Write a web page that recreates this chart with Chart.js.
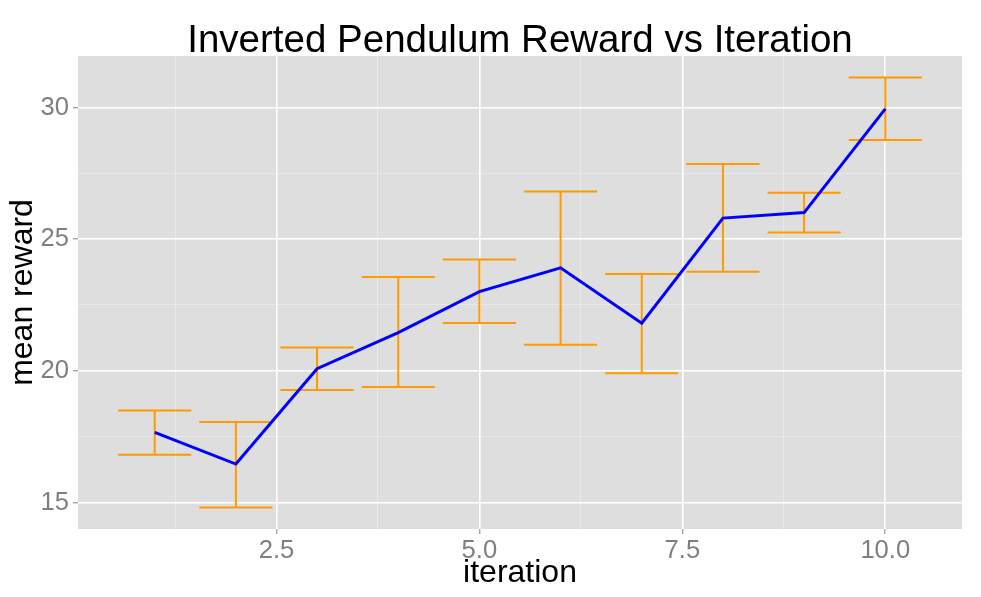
<!DOCTYPE html>
<html>
<head>
<meta charset="utf-8">
<script src="https://cdn.jsdelivr.net/npm/chart.js@4/dist/chart.umd.min.js"></script>
<style>
  html, body { margin: 0; padding: 0; background: #ffffff; }
  #wrap { width: 981px; height: 597px; }
</style>
</head>
<body>
<div id="wrap"><canvas id="c" width="981" height="597"></canvas></div>
<script>
// ---- data ----
const iterations = [1, 2, 3, 4, 5, 6, 7, 8, 9, 10];
const meanReward = [17.66, 16.46, 20.08, 21.45, 23.01, 23.91, 21.81, 25.80, 26.01, 29.95];
const upperBound = [18.49, 18.06, 20.89, 23.56, 24.23, 26.81, 23.68, 27.85, 26.76, 31.14];
const lowerBound = [16.81, 14.81, 19.27, 19.39, 21.82, 20.99, 19.91, 23.76, 25.25, 28.77];

const xMajorTicks = [2.5, 5, 7.5, 10];
const xMajorLabels = ['2.5', '5.0', '7.5', '10.0'];
const xMinorTicks = [1.25, 3.75, 6.25, 8.75];
const yMajorTicks = [15, 20, 25, 30];
const yMajorLabels = ['15', '20', '25', '30'];
const yMinorTicks = [17.5, 22.5, 27.5];

const titleText = 'Inverted Pendulum Reward vs Iteration';
const xTitle = 'iteration';
const yTitle = 'mean reward';

// ---- styling / layout ----
const capHalf = 0.45;
const FONT = "'Liberation Sans', Arial, Helvetica, sans-serif";
const panelBg = '#DEDEDE';
const tickGrey = '#7F7F7F';

// scale limits like ggplot (5% expansion of the data range)
const xLo = Math.min(...iterations) - capHalf, xHi = Math.max(...iterations) + capHalf;
const yLo = Math.min(...lowerBound), yHi = Math.max(...upperBound);
const xMin = xLo - 0.05 * (xHi - xLo), xMax = xHi + 0.05 * (xHi - xLo);
const yMin = yLo - 0.05 * (yHi - yLo), yMax = yHi + 0.05 * (yHi - yLo);

// error bar path, gaps separate the pieces
const errPts = [];
iterations.forEach((x, i) => {
  errPts.push({x: x - capHalf, y: upperBound[i]}, {x: x + capHalf, y: upperBound[i]}, {x: x, y: null});
  errPts.push({x: x, y: upperBound[i]}, {x: x, y: lowerBound[i]}, {x: x, y: null});
  errPts.push({x: x - capHalf, y: lowerBound[i]}, {x: x + capHalf, y: lowerBound[i]}, {x: x, y: null});
});
const linePts = iterations.map((x, i) => ({x: x, y: meanReward[i]}));

function buildTicks(major, minor) {
  return scale => {
    scale.ticks = major.concat(minor).sort((a, b) => a - b).map(v => ({value: v}));
  };
}
function isMajor(list, v) { return list.some(m => Math.abs(m - v) < 1e-9); }

const panelPlugin = {
  id: 'panel',
  beforeDraw(chart) {
    const a = chart.chartArea, ctx = chart.ctx;
    ctx.save();
    ctx.fillStyle = panelBg;
    ctx.fillRect(a.left, a.top, a.right - a.left, a.bottom - a.top);
    ctx.restore();
  }
};

new Chart(document.getElementById('c'), {
  type: 'line',
  data: {
    datasets: [
      {
        label: 'mean',
        data: linePts,
        borderColor: '#0000FF',
        borderWidth: 3,
        pointRadius: 0,
        tension: 0,
        order: 0
      },
      {
        label: 'error',
        data: errPts,
        borderColor: '#FF9A00',
        borderWidth: 2,
        pointRadius: 0,
        tension: 0,
        spanGaps: false,
        order: 1
      }
    ]
  },
  options: {
    responsive: false,
    animation: false,
    events: [],
    layout: { padding: { left: 0, right: 19, top: 0, bottom: 0 } },
    plugins: {
      legend: { display: false },
      tooltip: { enabled: false },
      title: {
        display: true,
        text: titleText,
        fullSize: false,
        color: '#000000',
        font: { family: FONT, size: 38.5, weight: 'normal', lineHeight: 0.75 },
        padding: { top: 26.5, bottom: 0.6 }
      }
    },
    scales: {
      x: {
        type: 'linear',
        min: xMin,
        max: xMax,
        afterBuildTicks: buildTicks(xMajorTicks, xMinorTicks),
        afterFit: s => { s.height = 68; },
        border: { display: false },
        grid: {
          drawTicks: true,
          tickLength: 5,
          tickWidth: 1,
          tickColor: c => isMajor(xMajorTicks, c.tick.value) ? tickGrey : 'rgba(0,0,0,0)',
          color: c => isMajor(xMajorTicks, c.tick.value) ? '#FFFFFF' : 'rgba(255,255,255,0.35)',
          lineWidth: c => isMajor(xMajorTicks, c.tick.value) ? 1.6 : 1
        },
        ticks: {
          autoSkip: false,
          maxRotation: 0,
          padding: 2,
          color: tickGrey,
          font: { family: FONT, size: 25.6 },
          callback: v => { const k = xMajorTicks.findIndex(m => Math.abs(m - v) < 1e-9); return k >= 0 ? xMajorLabels[k] : ''; }
        },
        title: {
          display: true,
          text: xTitle,
          color: '#000000',
          font: { family: FONT, size: 32 },
          padding: { top: 0, bottom: 5 }
        }
      },
      y: {
        type: 'linear',
        min: yMin,
        max: yMax,
        afterBuildTicks: buildTicks(yMajorTicks, yMinorTicks),
        afterFit: s => { s.width = 78; },
        border: { display: false },
        grid: {
          drawTicks: true,
          tickLength: 5,
          tickWidth: 1,
          tickColor: c => isMajor(yMajorTicks, c.tick.value) ? tickGrey : 'rgba(0,0,0,0)',
          color: c => isMajor(yMajorTicks, c.tick.value) ? '#FFFFFF' : 'rgba(255,255,255,0.35)',
          lineWidth: c => isMajor(yMajorTicks, c.tick.value) ? 1.6 : 1
        },
        ticks: {
          autoSkip: false,
          padding: 4,
          color: tickGrey,
          font: { family: FONT, size: 25.6 },
          callback: v => { const k = yMajorTicks.findIndex(m => Math.abs(m - v) < 1e-9); return k >= 0 ? yMajorLabels[k] : ''; }
        },
        title: {
          display: true,
          text: yTitle,
          color: '#000000',
          font: { family: FONT, size: 32 },
          padding: { top: 4, bottom: 0 }
        }
      }
    }
  },
  plugins: [panelPlugin]
});
</script>
</body>
</html>
